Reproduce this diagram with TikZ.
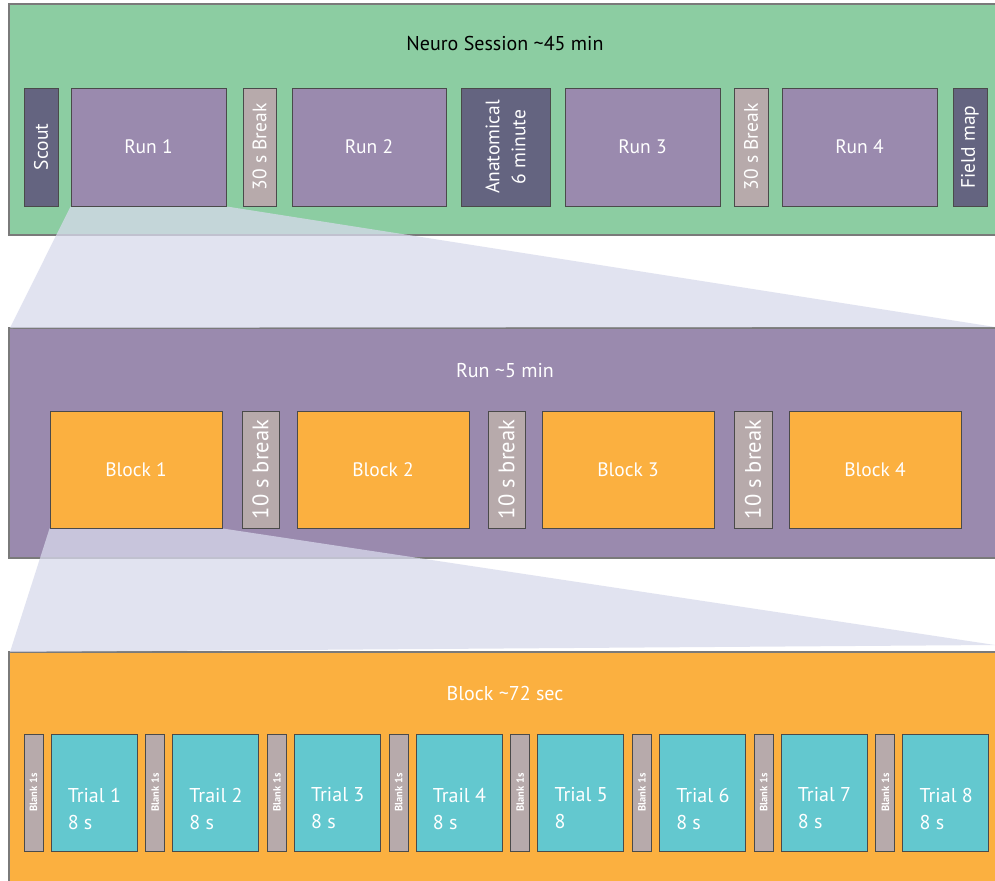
\documentclass[tikz,border=0pt]{standalone}
\usepackage{fontspec}
\setmainfont{PT Sans}
\pgfdeclarelayer{bg}
\pgfdeclarelayer{mid}
\pgfsetlayers{bg,mid,main}
\definecolor{sessgreen}{HTML}{8CCDA2}
\definecolor{runpurple}{HTML}{9A8AAE}
\definecolor{slate}{HTML}{646480}
\definecolor{brkgray}{HTML}{B7AAAB}
\definecolor{blkorange}{HTML}{FBB040}
\definecolor{trialcyan}{HTML}{63C8CF}
\definecolor{funnelc}{HTML}{D8DAEC}
\definecolor{panelline}{HTML}{7A7A7A}
\definecolor{boxline}{HTML}{4A4A4A}
\begin{document}
\begin{tikzpicture}[x=1pt,y=-1pt,
  panel/.style={draw=panelline,line width=1.2pt},
  box/.style={draw=boxline,line width=0.9pt,inner sep=0pt,text=white,font=\fontsize{19.5}{22}\selectfont},
  runbox/.style={box,fill=runpurple,minimum width=155,minimum height=118},
  slatebox/.style={box,fill=slate,minimum width=118,align=center,rotate=90},
  brkbox/.style={box,fill=brkgray,minimum width=118,rotate=90},
  blockbox/.style={box,fill=blkorange,minimum width=172,minimum height=117},
  smallbrk/.style={box,fill=brkgray,minimum height=37,minimum width=117,rotate=90,font=\fontsize{22.5}{24}\selectfont},
  blankbox/.style={box,fill=brkgray,minimum height=19,minimum width=117,rotate=90,font=\bfseries\fontsize{10.5}{11}\selectfont},
  trialbox/.style={box,fill=trialcyan,minimum width=86,minimum height=117},
  funnel/.style={fill=funnelc,opacity=0.75},
  title/.style={font=\fontsize{20}{22}\selectfont}
]
\useasboundingbox (0,0) rectangle (995,880);
\clip (0,0) rectangle (995,880);

% panels
\begin{pgfonlayer}{bg}
\fill[white] (0,0) rectangle (995,880);
\draw[panel,fill=sessgreen] (9,4) rectangle (1010,235);
\draw[panel,fill=runpurple] (9,328) rectangle (1010,558);
\draw[panel,fill=blkorange] (9,652) rectangle (1010,890);
\end{pgfonlayer}

\node[title,text=black] (t1) at (505,44) {Neuro Session \textasciitilde45 min};
\node[title,text=white] (t2) at (505,371) {Run \textasciitilde5 min};
\node[title,text=white] (t3) at (505,693) {Block \textasciitilde72 sec};

% session row
\node[slatebox,minimum height=34] (scout) at (41,147) {Scout};
\node[runbox] (run1) at (148.5,147) {Run 1};
\node[brkbox,minimum height=33] (brk1) at (259.5,147) {30 s Break};
\node[runbox,minimum width=154] (run2) at (369,147) {Run 2};
\node[slatebox,minimum height=89,font=\fontsize{19.5}{26}\selectfont] (anat) at (505.5,147) {Anatomical\\6 minute};
\node[runbox] (run3) at (642.5,147) {Run 3};
\node[brkbox,minimum height=34] (brk2) at (751,147) {30 s Break};
\node[runbox] (run4) at (859.5,147) {Run 4};
\node[slatebox,minimum height=34] (field) at (970,147) {Field map};

% run row
\node[blockbox] (blk1) at (136,469.5) {Block 1};
\node[smallbrk] (rb1) at (260.5,469.5) {10 s break};
\node[blockbox] (blk2) at (383,469.5) {Block 2};
\node[smallbrk] (rb2) at (506.5,469.5) {10 s break};
\node[blockbox] (blk3) at (628,469.5) {Block 3};
\node[smallbrk,minimum height=38] (rb3) at (753,469.5) {10 s break};
\node[blockbox] (blk4) at (875,469.5) {Block 4};

% block row
\foreach \i/\lab/\sec in {0/Trial 1/8 s,1/Trail 2/8 s,2/Trial 3/8 s,3/Trail 4/8 s,4/Trial 5/8,5/Trial 6/8 s,6/Trial 7/8 s,7/Trial 8/8 s}{
  \node[blankbox] (bl\i) at ({33.5+121.7*\i},792.5) {Blank 1s};
  \node[trialbox] (tr\i) at ({94+121.7*\i},792.5) {};
  \node[text=white,anchor=west,align=left,inner sep=0pt,font=\fontsize{20}{27}\selectfont] (lb\i) at ([xshift=17pt,yshift=-16pt]tr\i.west) {\lab\\\sec};
}

% funnels
\begin{pgfonlayer}{mid}
\fill[funnel] (run1.south west) -- (run1.south east) -- (995,327) -- (10,328) -- cycle;
\fill[funnel] (blk1.south west) -- (blk1.south east) -- (995,645) -- (10,652) -- cycle;
\end{pgfonlayer}
\end{tikzpicture}
\end{document}
